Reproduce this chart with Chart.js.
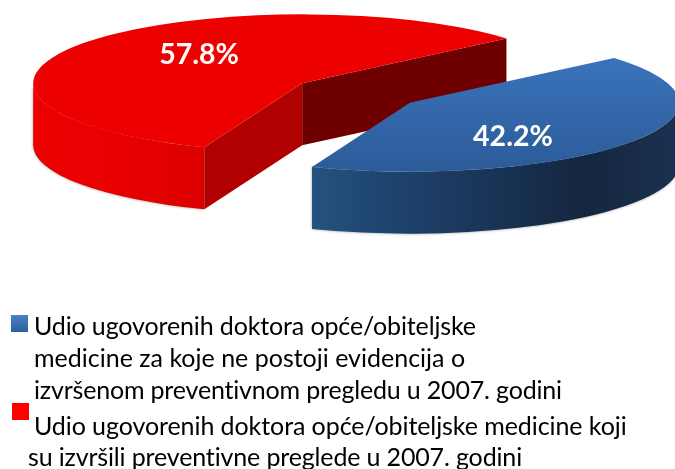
<!DOCTYPE html>
<html>
<head>
<meta charset="utf-8">
<script src="https://cdn.jsdelivr.net/npm/chart.js@4/dist/chart.umd.min.js"></script>
<style>
  html, body { margin: 0; padding: 0; background: #fff; }
  #wrap { position: relative; width: 675px; height: 469px; overflow: hidden; }
  #pie { position: absolute; left: 0; top: 0; }
  .line { position: absolute; font-family: Lato, sans-serif; font-size: 25px; line-height: 30px; color: #000; white-space: pre; }
  .box { position: absolute; width: 17px; height: 17px; }
</style>
</head>
<body>
<div id="wrap">
  <canvas id="pie" width="675" height="469"></canvas>
</div>
<script>
const categories = [
  'Udio ugovorenih doktora opće/obiteljske medicine za koje ne postoji evidencija o izvršenom preventivnom pregledu u 2007. godini',
  'Udio ugovorenih doktora opće/obiteljske medicine koji su izvršili preventivne preglede u 2007. godini'
];
const values = [42.2, 57.8];
const blueLegendLines = [
  'Udio ugovorenih doktora opće/obiteljske',
  'medicine za koje ne postoji evidencija o',
  'izvršenom preventivnom pregledu u 2007. godini'
];
const redLegendLines = [
  'Udio ugovorenih doktora opće/obiteljske medicine koji',
  'su izvršili preventivne preglede u 2007. godini'
];

// look of the fake 3D
const squash = 0.256;
const depth = 62;
const explode = 66;
const padBottom = 283;
const sideStops = [
  [[0, '#25527f'], [0.2, '#1f4470'], [0.74, '#14263f'], [1, '#1b3150']],
  [[0, '#ec0000'], [0.5, '#e80000'], [1, '#dc0000']]
];
const startWall = ['#24517f', '#b00000'];
const endWall = ['#24517f', '#6e0000'];

const pie3d = {
  id: 'pie3d',
  beforeDatasetDraw(chart, args) {
    const ctx = chart.ctx;
    const arcs = args.meta.data;
    // red goes first, the blue slice sits in front of it
    for (let i = arcs.length - 1; i >= 0; i--) {
      const el = arcs[i];
      const r = el.outerRadius;
      const mid = (el.startAngle + el.endAngle) / 2;
      const cx = el.x + Math.cos(mid) * explode;
      const cy = el.y + Math.sin(mid) * explode * squash;
      const pt = a => [cx + Math.cos(a) * r, cy + Math.sin(a) * r * squash];

      // outer wall, only the part that faces the viewer
      const from = Math.max(el.startAngle, 0);
      const to = Math.min(el.endAngle, Math.PI);
      if (to > from) {
        const left = Math.min(pt(from)[0], pt(to)[0]);
        const right = Math.max(pt(from)[0], pt(to)[0]);
        const grad = ctx.createLinearGradient(left, 0, right, 0);
        sideStops[i].forEach(s => grad.addColorStop(s[0], s[1]));
        ctx.save();
        ctx.shadowColor = 'rgba(0,0,0,0.4)';
        ctx.shadowBlur = 3;
        ctx.fillStyle = grad;
        ctx.beginPath();
        ctx.ellipse(cx, cy, r, r * squash, 0, from, to);
        ctx.ellipse(cx, cy + depth, r, r * squash, 0, to, from, true);
        ctx.closePath();
        ctx.fill();
        ctx.restore();
      }

      // inner walls, skipped when they face away from the viewer
      [
        [el.endAngle, endWall[i], Math.sin(el.endAngle + Math.PI / 2)],
        [el.startAngle, startWall[i], Math.sin(el.startAngle - Math.PI / 2)]
      ].forEach(([a, color, facing]) => {
        if (facing <= 0) return;
        const p = pt(a);
        ctx.fillStyle = color;
        ctx.beginPath();
        ctx.moveTo(cx, cy);
        ctx.lineTo(p[0], p[1]);
        ctx.lineTo(p[0], p[1] + depth);
        ctx.lineTo(cx, cy + depth);
        ctx.closePath();
        ctx.fill();
      });

      // top face is the library's own arc, squashed
      ctx.save();
      ctx.translate(cx, cy);
      ctx.scale(1, squash);
      ctx.translate(-el.x, -el.y);
      el.draw(ctx);
      ctx.restore();
    }
    return false;
  },
  afterDraw(chart) {
    const ctx = chart.ctx;
    const arcs = chart.getDatasetMeta(0).data;
    ctx.save();
    ctx.fillStyle = '#fff';
    ctx.font = 'bold 28.5px Lato, sans-serif';
    ctx.textAlign = 'center';
    ctx.textBaseline = 'middle';
    arcs.forEach((el, i) => {
      const mid = (el.startAngle + el.endAngle) / 2;
      const cx = el.x + Math.cos(mid) * explode;
      const cy = el.y + Math.sin(mid) * explode * squash;
      const x = cx + Math.cos(mid) * el.outerRadius * 0.47;
      const y = cy + Math.sin(mid) * el.outerRadius * squash * 0.78 + 3;
      ctx.fillText(values[i].toFixed(1) + '%', x, y);
    });
    ctx.restore();
  }
};

new Chart(document.getElementById('pie'), {
  type: 'pie',
  data: {
    labels: categories,
    datasets: [{
      data: values,
      borderWidth: 0,
      backgroundColor(c) {
        if (c.dataIndex === 1) return '#ec0000';
        const mid = (c.chart.height - padBottom) / 2;
        const g = c.chart.ctx.createLinearGradient(0, mid - 172, 0, mid + 269);
        g.addColorStop(0, '#3a73bb');
        g.addColorStop(1, '#2c5b98');
        return g;
      }
    }]
  },
  options: {
    responsive: false,
    animation: false,
    events: [],
    rotation: 49.4,
    radius: 269,
    layout: { padding: { left: 37, right: 0, top: 0, bottom: padBottom } },
    plugins: { legend: { display: false }, tooltip: { enabled: false } }
  },
  plugins: [pie3d]
});

// legend sits under the chart as plain text
const wrap = document.getElementById('wrap');
function addLine(text, x, top, spacing) {
  const d = document.createElement('div');
  d.className = 'line';
  d.textContent = text;
  d.style.left = x + 'px';
  d.style.top = top + 'px';
  d.style.letterSpacing = spacing + 'px';
  wrap.appendChild(d);
}
function addBox(x, top, bg) {
  const d = document.createElement('div');
  d.className = 'box';
  d.style.left = x + 'px';
  d.style.top = top + 'px';
  d.style.background = bg;
  wrap.appendChild(d);
}
addBox(11, 315, 'linear-gradient(#4a82c6, #2f5f9b)');
addBox(12, 403, '#ff0000');
addLine(blueLegendLines[0], 34, 310, -0.13);
addLine(blueLegendLines[1], 34, 342, 0);
addLine(blueLegendLines[2], 34, 374, -0.18);
addLine(redLegendLines[0], 34, 410, -0.08);
addLine(redLegendLines[1], 28, 441, -0.15);
</script>
</body>
</html>
